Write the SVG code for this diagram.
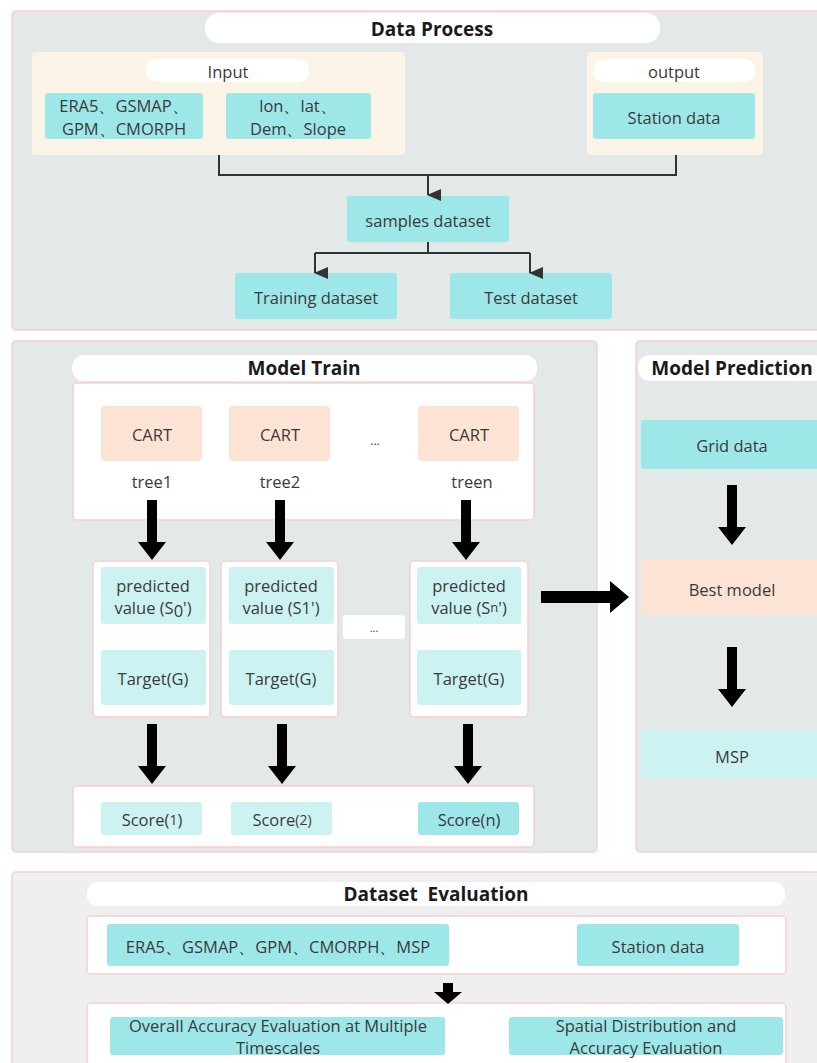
<svg xmlns="http://www.w3.org/2000/svg" width="817" height="1063" viewBox="0 0 817 1063">
<defs>
<style>
.panel{fill:#e3e9e9;stroke:#f7cfcf;stroke-width:1.5}
.panel2{fill:#efefef;stroke:#f7cfcf;stroke-width:1.5}
.pill{fill:#ffffff}
.wbox{fill:#ffffff;stroke:#f7cfcf;stroke-width:1.5}
.beige{fill:#fbf4e6}
.cyan{fill:#9ee7e9}
.lcyan{fill:#ccf3f1}
.peach{fill:#fde3d3}
text{font-family:"Open Sans","Noto Sans","DejaVu Sans",sans-serif;font-size:16.5px;fill:#3a3a3a;text-anchor:middle;dominant-baseline:central}
.title{font-weight:bold;font-size:19px;fill:#1a1a1a;white-space:pre}
.thin{fill:none;stroke:#333;stroke-width:2}
</style>
<marker id="ah" markerWidth="12" markerHeight="14" refX="6" refY="13" orient="auto" markerUnits="userSpaceOnUse" viewBox="0 0 12 14">
<path d="M0,0 L12,0 L6,14 Z" fill="#333"/>
</marker>
<path id="bigdown" d="M-5,0 H5 V42 H14 L0,60 L-14,42 H-5 Z" fill="#000"/>
</defs>

<!-- Data Process -->
<g id="data-process">
<rect class="panel" x="12" y="11" width="815" height="319" rx="4"/>
<rect class="pill" x="205" y="13" width="455" height="30" rx="14"/>
<text class="title" x="432" y="29">Data Process</text>
</g>
<g id="input">
<rect class="beige" x="32" y="52" width="373" height="103" rx="4"/>
<rect class="pill" x="146" y="59" width="163" height="23" rx="10"/>
<text x="228" y="71">Input</text>
</g>
<g id="era5-input">
<rect class="cyan" x="45" y="93" width="158" height="46" rx="3"/>
<text x="124" y="105">ERA5、GSMAP、</text>
<text x="124" y="128">GPM、CMORPH</text>
</g>
<g id="lonlat">
<rect class="cyan" x="226" y="93" width="145" height="46" rx="3"/>
<text x="298" y="105">lon、lat、</text>
<text x="298" y="128">Dem、Slope</text>
</g>
<g id="output">
<rect class="beige" x="587" y="52" width="176" height="103" rx="4"/>
<rect class="pill" x="593" y="59" width="162" height="23" rx="10"/>
<text x="674" y="71">output</text>
<rect class="cyan" x="593" y="93" width="162" height="46" rx="3"/>
<text x="674" y="117">Station data</text>
</g>
<g id="samples">
<rect class="cyan" x="347" y="196" width="162" height="46" rx="3"/>
<text x="428" y="220">samples dataset</text>
</g>
<g id="training">
<rect class="cyan" x="235" y="273" width="162" height="46" rx="3"/>
<text x="316" y="297">Training dataset</text>
</g>
<g id="test">
<rect class="cyan" x="450" y="273" width="162" height="46" rx="3"/>
<text x="531" y="297">Test dataset</text>
</g>

<!-- Model Train -->
<g id="model-train">
<rect class="panel" x="12" y="341" width="585" height="511" rx="4"/>
<rect class="pill" x="72" y="355" width="465" height="26" rx="12"/>
<text class="title" x="304" y="368">Model Train</text>
<rect class="wbox" x="73" y="383" width="461" height="137" rx="4"/>
<text x="375" y="440" style="font-size:12px">...</text>
</g>
<g id="cart1">
<rect class="peach" x="101" y="406" width="101" height="55" rx="3"/>
<text x="152" y="434">CART</text>
<text x="152" y="481">tree1</text>
</g>
<g id="cart2">
<rect class="peach" x="229" y="406" width="101" height="55" rx="3"/>
<text x="280" y="434">CART</text>
<text x="280" y="481">tree2</text>
</g>
<g id="cartn">
<rect class="peach" x="418" y="406" width="101" height="55" rx="3"/>
<text x="469" y="434">CART</text>
<text x="472" y="481">treen</text>
</g>
<g id="col1">
<rect class="wbox" x="93" y="561" width="117" height="156" rx="4"/>
<rect class="lcyan" x="101" y="567" width="105" height="57" rx="3"/>
<text x="153" y="585">predicted</text>
<text x="153" y="607">value (S<tspan dy="3">0</tspan><tspan dy="-3">')</tspan></text>
<rect class="lcyan" x="101" y="650" width="105" height="55" rx="3"/>
<text x="153" y="678">Target(G)</text>
</g>
<g id="col2">
<rect class="wbox" x="221" y="561" width="117" height="156" rx="4"/>
<rect class="lcyan" x="229" y="567" width="105" height="57" rx="3"/>
<text x="281" y="585">predicted</text>
<text x="281" y="607">value (S1')</text>
<rect class="lcyan" x="229" y="650" width="105" height="55" rx="3"/>
<text x="281" y="678">Target(G)</text>
</g>
<g id="dots-box">
<rect class="pill" x="343" y="615" width="62" height="24" rx="3"/>
<text x="374" y="627" style="font-size:11px">...</text>
</g>
<g id="coln">
<rect class="wbox" x="410" y="561" width="118" height="156" rx="4"/>
<rect class="lcyan" x="417" y="567" width="104" height="57" rx="3"/>
<text x="469" y="585">predicted</text>
<text x="469" y="607">value (S<tspan style="font-size:13px">n</tspan>')</text>
<rect class="lcyan" x="417" y="650" width="104" height="55" rx="3"/>
<text x="469" y="678">Target(G)</text>
</g>
<g id="scores">
<rect class="wbox" x="73" y="786" width="461" height="61" rx="4"/>
<rect class="lcyan" x="101" y="802" width="101" height="33" rx="3"/>
<text x="152" y="819">Score(<tspan style="font-size:14px">1</tspan>)</text>
<rect class="lcyan" x="231" y="802" width="101" height="33" rx="3"/>
<text x="282" y="819">Score<tspan style="font-size:14px">(2)</tspan></text>
<rect class="cyan" x="418" y="802" width="101" height="33" rx="3"/>
<text x="469" y="819">Score(n)</text>
</g>

<!-- Model Prediction -->
<g id="model-prediction">
<rect class="panel" x="636" y="341" width="191" height="511" rx="4"/>
<rect class="pill" x="638" y="355" width="189" height="26" rx="12"/>
<text class="title" x="732" y="368">Model Prediction</text>
</g>
<g id="grid">
<rect class="cyan" x="641" y="420" width="186" height="49" rx="3"/>
<text x="732" y="445">Grid data</text>
</g>
<g id="best">
<rect class="peach" x="641" y="560" width="186" height="55" rx="3"/>
<text x="732" y="589">Best model</text>
</g>
<g id="msp">
<rect class="lcyan" x="641" y="730" width="186" height="48" rx="3"/>
<text x="732" y="756">MSP</text>
</g>

<!-- Dataset Evaluation -->
<g id="evaluation">
<rect class="panel2" x="12" y="872" width="815" height="200" rx="4"/>
<rect class="pill" x="87" y="882" width="698" height="24" rx="11"/>
<text class="title" x="436" y="894">Dataset  Evaluation</text>
<rect class="wbox" x="87" y="916" width="699" height="58" rx="4"/>
<rect class="wbox" x="87" y="1003" width="699" height="70" rx="4"/>
</g>
<g id="eval-inputs">
<rect class="cyan" x="107" y="924" width="342" height="42" rx="3"/>
<text x="278" y="946">ERA5、GSMAP、GPM、CMORPH、MSP</text>
</g>
<g id="eval-station">
<rect class="cyan" x="577" y="924" width="162" height="42" rx="3"/>
<text x="658" y="946">Station data</text>
</g>
<g id="overall">
<rect class="cyan" x="110" y="1017" width="335" height="38" rx="3"/>
<text x="278" y="1025">Overall Accuracy Evaluation at Multiple</text>
<text x="278" y="1047">Timescales</text>
</g>
<g id="spatial">
<rect class="cyan" x="509" y="1017" width="274" height="38" rx="3"/>
<text x="646" y="1025">Spatial Distribution and</text>
<text x="646" y="1047">Accuracy Evaluation</text>
</g>

<!-- Connectors -->
<g id="connectors">
<polyline class="thin" points="219,155 219,175 676,175 676,155"/>
<line class="thin" x1="428" y1="175" x2="428" y2="195" marker-end="url(#ah)"/>
<line class="thin" x1="428" y1="242" x2="428" y2="253"/>
<line class="thin" x1="315" y1="253" x2="530" y2="253"/>
<line class="thin" x1="315" y1="253" x2="315" y2="273" marker-end="url(#ah)"/>
<line class="thin" x1="530" y1="253" x2="530" y2="273" marker-end="url(#ah)"/>
<use href="#bigdown" x="152" y="500"/>
<use href="#bigdown" x="280" y="500"/>
<use href="#bigdown" x="466" y="500"/>
<use href="#bigdown" x="152" y="724"/>
<use href="#bigdown" x="282" y="724"/>
<use href="#bigdown" x="468" y="724"/>
<use href="#bigdown" x="732" y="485"/>
<use href="#bigdown" x="732" y="647"/>
<path d="M541,591 H610 V581 L629,597 L610,613 V603 H541 Z" fill="#000"/>
<path d="M443,983 H453 V992 H462 L448,1004 L434,992 H443 Z" fill="#000"/>
</g>
</svg>
